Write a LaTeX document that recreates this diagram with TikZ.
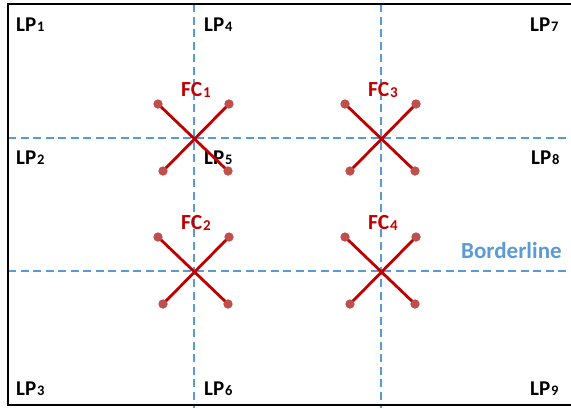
\documentclass[tikz,border=0pt]{standalone}
\usepackage{fontspec}
\setmainfont{Carlito}
\definecolor{bline}{HTML}{5B9BD5}
\definecolor{fcred}{HTML}{C00000}
\definecolor{dotred}{HTML}{C0504D}
\newcommand{\lpsub}[1]{\kern0.8pt\raisebox{-0.6pt}{\fontsize{14.5}{14.5}\selectfont #1}}
\newcommand{\fcsub}[1]{\kern0.8pt\raisebox{-0.6pt}{\fontsize{15}{15}\selectfont #1}}
\begin{document}
\begin{tikzpicture}[x=1pt,y=-1pt,
  frame/.style={line width=2.8pt,black},
  border/.style={bline,line width=2.7pt,dash pattern=on 8.3pt off 4.2pt},
  lp/.style={anchor=base west,inner sep=0pt,font=\fontsize{21}{21}\selectfont\bfseries,text=black},
  fc/.style={anchor=base west,inner sep=0pt,font=\fontsize{21.5}{21.5}\selectfont\bfseries,text=fcred},
  bl/.style={anchor=base west,inner sep=0pt,font=\fontsize{23}{23}\selectfont\bfseries,text=bline},
  arm/.style={fcred,line width=2.8pt},
  pin/.style={circle,fill=dotred,inner sep=0pt,minimum size=9pt}]
\useasboundingbox (0,0) rectangle (571,408);
% borders
\coordinate (v1t) at (194,4); \coordinate (v1b) at (194,408);
\coordinate (v2t) at (381,4); \coordinate (v2b) at (381,408);
\coordinate (h1l) at (8,138); \coordinate (h1r) at (571,138);
\coordinate (h2l) at (8,271); \coordinate (h2r) at (571,271);
\draw[border] (v1t) -- (v1b);
\draw[border] (v2t) -- (v2b);
\draw[border] (h1l) -- (h1r);
\draw[border] (h2l) -- (h2r);
% frame
\coordinate (ftr) at (571,4); \coordinate (ftl) at (8,4);
\coordinate (fbl) at (8,405); \coordinate (fbr) at (571,405);
\draw[frame] (ftr) -- (ftl) -- (fbl) -- (fbr);
% LP labels
\node[lp] (lp1) at (16,31) {LP\lpsub{1}};
\node[lp] (lp4) at (204,31) {LP\lpsub{4}};
\node[lp] (lp7) at (530,31) {LP\lpsub{7}};
\node[lp] (lp2) at (16,164) {LP\lpsub{2}};
\node[lp] (lp5) at (204,164) {LP\lpsub{5}};
\node[lp] (lp8) at (531,164) {LP\lpsub{8}};
\node[lp] (lp3) at (16,395) {LP\lpsub{3}};
\node[lp] (lp6) at (204,395) {LP\lpsub{6}};
\node[lp] (lp9) at (530,395) {LP\lpsub{9}};
\node[bl] (borderline) at (461,258.5) {Borderline};
% crosses
\foreach \n/\cx/\cy in {1/194/138, 3/381/138, 2/194/271, 4/381/271}{
  \node[pin] (ul\n) at (\cx-36,\cy-34) {};
  \node[pin] (ur\n) at (\cx+35,\cy-34) {};
  \node[pin] (ll\n) at (\cx-31,\cy+33) {};
  \node[pin] (lr\n) at (\cx+34,\cy+33) {};
  \draw[arm] (ul\n.center) -- (lr\n.center);
  \draw[arm] (ur\n.center) -- (ll\n.center);
  \node[pin] at (ul\n) {};
  \node[pin] at (ur\n) {};
  \node[pin] at (ll\n) {};
  \node[pin] at (lr\n) {};
  \node[fc] (fc\n) at (\cx-13,\cy-41.5) {FC\fcsub{\n}};
}
\end{tikzpicture}
\end{document}
